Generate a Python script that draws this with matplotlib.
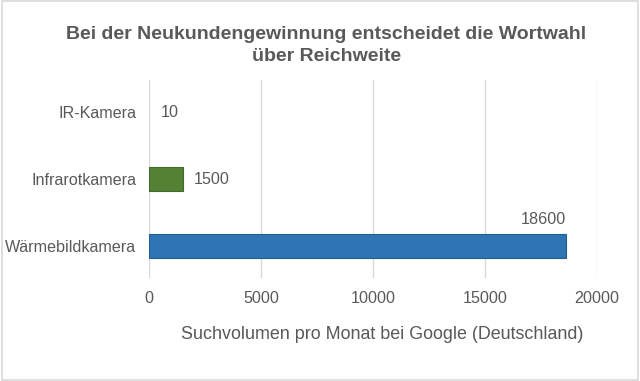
import matplotlib
matplotlib.use("Agg")
import matplotlib.pyplot as plt
from matplotlib.patches import Rectangle

categories = ["Wärmebildkamera", "Infrarotkamera", "IR-Kamera"]
values = [18600, 1500, 10]
colors = ["#2E75B6", "#548235", "#548235"]
edge_colors = ["#245d92", "#426a29", "#426a29"]
edge_widths = [0.8, 0.8, 0.0]
xticks = [0, 5000, 10000, 15000, 20000]
title = "Bei der Neukundengewinnung entscheidet die Wortwahl\nüber Reichweite"
xlabel = "Suchvolumen pro Monat bei Google (Deutschland)"

plt.rcParams['font.family'] = ['Liberation Sans', 'DejaVu Sans']
txt = "#595959"

fig = plt.figure(figsize=(6.4, 3.81), dpi=100)
fig.patches.append(Rectangle((0.003, 0.003), 0.994, 0.994, transform=fig.transFigure,
                             fill=False, edgecolor="#d9d9d9", linewidth=1.2))
ax = fig.add_axes([0.2328, 0.27, 0.70, 0.52])

y = list(range(len(categories)))
ax.barh(y, values, height=0.35, color=colors, edgecolor=edge_colors,
        linewidth=edge_widths, zorder=3)

ax.set_xlim(0, 20000)
ax.set_ylim(-0.48, 2.48)
ax.set_xticks(xticks)
ax.set_xticklabels([str(t) for t in xticks])
ax.set_yticks(y)
ax.set_yticklabels(categories)
ax.tick_params(axis='both', length=0, colors=txt, labelsize=11.6)
ax.tick_params(axis='x', pad=9)
ax.tick_params(axis='y', pad=9)
ax.grid(axis='x', color="#d9d9d9", linewidth=1, zorder=0)
for s in ax.spines.values():
    s.set_visible(False)

for i, v in enumerate(values):
    if v > 10000:
        ax.annotate(str(v), (v, i), xytext=(0, 14), textcoords="offset points",
                    ha="right", va="bottom", color=txt, fontsize=11.6)
    else:
        ax.annotate(str(v), (v, i), xytext=(8, 0), textcoords="offset points",
                    ha="left", va="center", color=txt, fontsize=11.6)

ax.set_xlabel(xlabel, color=txt, fontsize=12.9, labelpad=12)
ax.xaxis.set_label_coords(0.52, -0.24)
fig.text(0.51, 0.932, title, ha="center", va="top", fontsize=14,
         fontweight="bold", color=txt, linespacing=1.43)

fig.savefig("out.png", dpi=100)
